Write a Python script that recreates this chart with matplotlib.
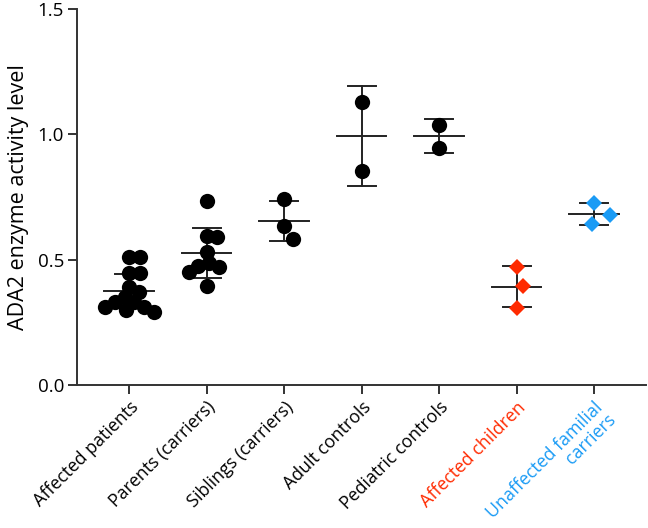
import numpy as np
import matplotlib
matplotlib.use("Agg")
import matplotlib.pyplot as plt
from matplotlib.transforms import ScaledTranslation

plt.rcParams['font.family'] = ['Open Sans', 'DejaVu Sans']

# Data
groups = ["Affected patients", "Parents (carriers)", "Siblings (carriers)",
          "Adult controls", "Pediatric controls", "Affected children",
          "Unaffected familial\ncarriers"]
affected_patients = [0.51, 0.51, 0.445, 0.445, 0.39, 0.37, 0.35, 0.33, 0.33,
                     0.31, 0.31, 0.30, 0.29]
parents = [0.735, 0.595, 0.59, 0.53, 0.487, 0.475, 0.47, 0.45, 0.395]
siblings = [0.742, 0.634, 0.582]
adult_controls = [1.13, 0.855]
pediatric_controls = [1.037, 0.945]
affected_children = [0.47, 0.395, 0.307]
unaffected_carriers = [0.726, 0.678, 0.642]
values = [affected_patients, parents, siblings, adult_controls,
          pediatric_controls, affected_children, unaffected_carriers]

means = [0.375, 0.527, 0.654, 0.993, 0.993, 0.391, 0.682]
sds = [0.068, 0.10, 0.08, 0.198, 0.068, 0.082, 0.044]

colors = ["black"] * 5 + ["#ff2a00", "#1a9bf5"]
markers = ["o"] * 5 + ["D", "D"]

fig = plt.figure(figsize=(6.48, 5.28), dpi=100)
ax = fig.add_axes([0.119, 0.271, 0.878, 0.712])
ax.set_xlim(-0.67, 6.67)
ax.set_ylim(0, 1.5)

# pixel scale for simple swarm layout
px_x = 0.878 * 648 / (6.67 + 0.67)
px_y = 0.712 * 528 / 1.5


def swarm(vals, d):
    placed = []
    order = np.argsort(vals)[::-1]
    offs = np.zeros(len(vals))
    for i in order:
        y = vals[i] * px_y
        cands = [0.0]
        for (xo, yo) in placed:
            dy = abs(y - yo)
            if dy < d:
                dx = np.sqrt(d * d - dy * dy)
                cands += [xo + dx, xo - dx]
        cands.sort(key=abs)
        for c in cands:
            ok = all((c - xo) ** 2 + (y - yo) ** 2 >= d * d - 1e-6
                     for (xo, yo) in placed)
            if ok:
                break
        placed.append((c, y))
        offs[i] = c / px_x
    return offs


for i, (vals, col, mk) in enumerate(zip(values, colors, markers)):
    if mk == "D":
        d = 20
    elif len(vals) <= 3:
        d = 16
    else:
        d = 11
    offs = swarm(vals, d)
    ms = 11 if mk == "o" else 8
    ax.plot(i + offs, vals, linestyle="none", marker=mk, color=col,
            markersize=ms, markeredgewidth=0, zorder=3)
    m, s = means[i], sds[i]
    ax.plot([i - 0.32, i + 0.32], [m, m], color="#222222", lw=1.4, zorder=2)
    ax.plot([i, i], [m - s, m + s], color="#222222", lw=1.4, zorder=2)
    for yy in (m - s, m + s):
        ax.plot([i - 0.18, i + 0.18], [yy, yy], color="#222222", lw=1.4,
                zorder=2)

ax.set_yticks([0.0, 0.5, 1.0, 1.5])
ax.set_yticklabels(["0.0", "0.5", "1.0", "1.5"])
ax.set_xticks(range(len(groups)))
ax.set_xticklabels(groups, rotation=45, ha="right", va="top",
                   rotation_mode="anchor")
offset = ScaledTranslation(10 / 72, 1 / 72, fig.dpi_scale_trans)
for lab, col in zip(ax.get_xticklabels(), colors):
    lab.set_color(col)
    lab.set_transform(lab.get_transform() + offset)
ax.get_xticklabels()[-1].set_linespacing(0.95)
ax.tick_params(axis="y", labelsize=13.5, width=1.4, length=6.5,
               color="#333333", pad=3)
ax.tick_params(axis="x", labelsize=12.8, width=1.4, length=6.5,
               color="#333333", pad=3)
ax.set_ylabel("ADA2 enzyme activity level", fontsize=15.5, labelpad=6)
for side in ("top", "right"):
    ax.spines[side].set_visible(False)
for side in ("left", "bottom"):
    ax.spines[side].set_linewidth(1.4)
    ax.spines[side].set_color("#333333")

fig.savefig("out.png", dpi=100)
